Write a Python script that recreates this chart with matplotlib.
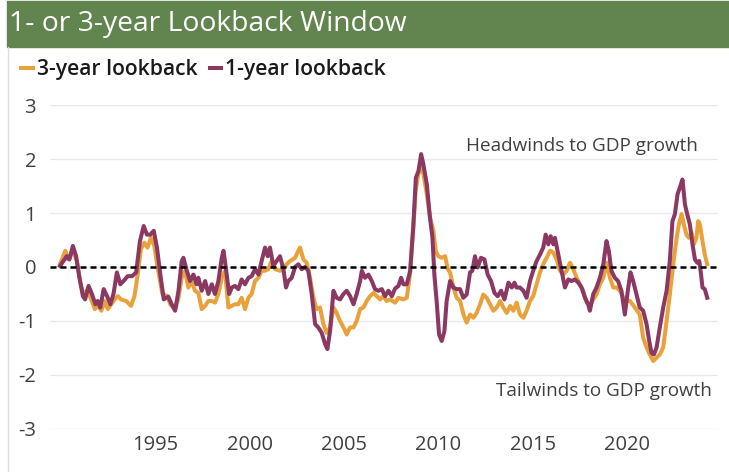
import matplotlib.pyplot as plt
from matplotlib.patches import Rectangle
from matplotlib.lines import Line2D

plt.rcParams['font.family'] = ['Open Sans', 'DejaVu Sans']

# 3-year lookback (orange), decimal years and values
three_year_dates = [
    1989.97, 1990.25, 1990.42, 1990.65, 1990.86, 1991.03, 1991.2, 1991.38, 1991.55, 1991.81,
    1991.98, 1992.16, 1992.33, 1992.5, 1992.68, 1992.86, 1993.03, 1993.2, 1993.47, 1993.73,
    1993.91, 1994.08, 1994.25, 1994.43, 1994.6, 1994.78, 1994.96, 1995.13, 1995.39, 1995.66,
    1995.8, 1996.06, 1996.24, 1996.41, 1996.59, 1996.76, 1996.94, 1997.11, 1997.29, 1997.47,
    1997.65, 1997.82, 1998.0, 1998.17, 1998.35, 1998.53, 1998.7, 1998.88, 1999.06, 1999.23,
    1999.41, 1999.58, 1999.76, 1999.94, 2000.11, 2000.29, 2000.47, 2000.64, 2000.82, 2000.99,
    2001.17, 2001.35, 2001.61, 2001.79, 2001.96, 2002.14, 2002.41, 2002.58, 2002.67, 2002.85,
    2003.02, 2003.2, 2003.38, 2003.55, 2003.73, 2003.91, 2004.08, 2004.26, 2004.44, 2004.61,
    2004.79, 2004.97, 2005.14, 2005.32, 2005.5, 2005.67, 2005.85, 2006.03, 2006.2, 2006.38,
    2006.56, 2006.73, 2006.91, 2007.08, 2007.26, 2007.44, 2007.7, 2007.88, 2008.14, 2008.32,
    2008.49, 2008.67, 2008.79, 2008.93, 2009.08, 2009.2, 2009.38, 2009.55, 2009.73, 2009.85,
    2009.99, 2010.17, 2010.35, 2010.49, 2010.61, 2010.79, 2010.96, 2011.14, 2011.32, 2011.49,
    2011.67, 2011.85, 2012.02, 2012.2, 2012.37, 2012.55, 2012.73, 2012.9, 2013.08, 2013.26,
    2013.43, 2013.61, 2013.79, 2013.96, 2014.13, 2014.31, 2014.49, 2014.66, 2014.84, 2015.01,
    2015.19, 2015.37, 2015.54, 2015.72, 2015.9, 2016.07, 2016.25, 2016.43, 2016.6, 2016.78,
    2016.96, 2017.13, 2017.31, 2017.48, 2017.66, 2017.84, 2018.01, 2018.19, 2018.37, 2018.54,
    2018.72, 2018.9, 2019.07, 2019.25, 2019.42, 2019.6, 2019.78, 2020.04, 2020.13, 2020.39,
    2020.65, 2020.83, 2021.01, 2021.18, 2021.36, 2021.54, 2021.71, 2021.89, 2022.07, 2022.24,
    2022.42, 2022.6, 2022.72, 2022.86, 2022.98, 2023.12, 2023.25, 2023.39, 2023.51, 2023.65,
    2023.74, 2023.83, 2023.97, 2024.09, 2024.22,
]
three_year_values = [
    0.05, 0.3, 0.14, 0.3, 0.11, -0.26, -0.5, -0.44, -0.54, -0.78,
    -0.72, -0.81, -0.63, -0.78, -0.69, -0.6, -0.54, -0.6, -0.63, -0.72,
    -0.54, -0.14, 0.33, 0.45, 0.36, 0.54, 0.39, 0.0, -0.5, -0.54,
    -0.69, -0.78, -0.57, -0.2, -0.07, -0.38, -0.26, -0.44, -0.48, -0.78,
    -0.72, -0.63, -0.63, -0.66, -0.5, -0.2, -0.07, -0.75, -0.72, -0.69,
    -0.69, -0.57, -0.78, -0.57, -0.5, -0.26, -0.2, -0.07, -0.07, -0.04,
    0.11, -0.04, -0.07, -0.04, 0.05, 0.11, 0.17, 0.3, 0.36, 0.14,
    0.08, -0.2, -0.57, -0.78, -0.75, -1.06, -1.22, -1.12, -0.75, -0.85,
    -1.0, -1.12, -1.25, -1.12, -1.12, -1.0, -0.78, -0.75, -0.63, -0.54,
    -0.48, -0.54, -0.6, -0.54, -0.63, -0.6, -0.66, -0.57, -0.6, -0.57,
    -0.14, 0.73, 1.41, 1.72, 1.85, 1.72, 1.35, 0.91, 0.67, 0.3,
    0.2, 0.17, 0.2, -0.04, -0.1, -0.38, -0.57, -0.63, -0.88, -1.03,
    -0.88, -0.94, -0.85, -0.69, -0.51, -0.57, -0.69, -0.81, -0.75, -0.63,
    -0.75, -0.85, -0.72, -0.81, -0.66, -0.88, -0.94, -0.81, -0.63, -0.54,
    -0.32, -0.1, 0.05, 0.17, 0.3, 0.27, 0.14, -0.07, -0.14, -0.07,
    0.08, -0.04, -0.2, -0.32, -0.44, -0.66, -0.72, -0.6, -0.5, -0.32,
    -0.2, 0.08, -0.2, -0.38, -0.38, -0.44, -0.57, -0.63, -0.63, -0.75,
    -0.88, -1.31, -1.49, -1.62, -1.74, -1.68, -1.62, -1.49, -1.0, -0.51,
    0.05, 0.54, 0.79, 0.98, 0.79, 0.6, 0.54, 0.64, 0.42, 0.54,
    0.85, 0.79, 0.48, 0.23, 0.05,
]

# 1-year lookback (purple)
one_year_dates = [
    1989.97, 1990.15, 1990.33, 1990.47, 1990.65, 1990.82, 1991.0, 1991.18, 1991.3, 1991.48,
    1991.66, 1991.84, 1991.96, 1992.1, 1992.28, 1992.46, 1992.63, 1992.8, 1992.98, 1993.16,
    1993.33, 1993.55, 1993.78, 1994.0, 1994.2, 1994.4, 1994.57, 1994.75, 1994.93, 1995.1,
    1995.28, 1995.46, 1995.7, 1995.88, 1996.06, 1996.24, 1996.41, 1996.5, 1996.68, 1996.85,
    1997.03, 1997.2, 1997.29, 1997.47, 1997.65, 1997.82, 1998.0, 1998.17, 1998.35, 1998.53,
    1998.62, 1998.74, 1998.92, 1999.06, 1999.23, 1999.41, 1999.58, 1999.76, 1999.94, 2000.11,
    2000.29, 2000.47, 2000.64, 2000.82, 2000.96, 2001.08, 2001.26, 2001.43, 2001.61, 2001.79,
    2001.93, 2002.05, 2002.23, 2002.41, 2002.58, 2002.76, 2002.94, 2003.11, 2003.29, 2003.47,
    2003.64, 2003.82, 2004.0, 2004.12, 2004.26, 2004.44, 2004.61, 2004.79, 2004.97, 2005.14,
    2005.32, 2005.5, 2005.67, 2005.85, 2005.94, 2006.11, 2006.29, 2006.47, 2006.64, 2006.82,
    2007.0, 2007.17, 2007.35, 2007.53, 2007.7, 2007.88, 2008.02, 2008.14, 2008.32, 2008.5,
    2008.67, 2008.8, 2008.94, 2009.08, 2009.2, 2009.38, 2009.55, 2009.68, 2009.78, 2009.9,
    2010.03, 2010.17, 2010.31, 2010.43, 2010.61, 2010.78, 2010.96, 2011.14, 2011.31, 2011.49,
    2011.67, 2011.79, 2011.93, 2012.07, 2012.25, 2012.43, 2012.6, 2012.78, 2012.96, 2013.13,
    2013.31, 2013.49, 2013.7, 2013.88, 2014.02, 2014.13, 2014.31, 2014.49, 2014.66, 2014.84,
    2015.01, 2015.19, 2015.37, 2015.54, 2015.67, 2015.81, 2015.93, 2016.08, 2016.16, 2016.34,
    2016.52, 2016.69, 2016.87, 2017.04, 2017.22, 2017.4, 2017.57, 2017.75, 2017.92, 2018.01,
    2018.19, 2018.36, 2018.54, 2018.72, 2018.89, 2019.01, 2019.15, 2019.33, 2019.5, 2019.68,
    2019.86, 2020.04, 2020.16, 2020.3, 2020.48, 2020.65, 2020.83, 2021.01, 2021.15, 2021.27,
    2021.4, 2021.54, 2021.71, 2021.89, 2022.07, 2022.24, 2022.38, 2022.51, 2022.65, 2022.77,
    2022.91, 2023.04, 2023.16, 2023.3, 2023.44, 2023.57, 2023.69, 2023.8, 2023.88, 2023.97,
    2024.09, 2024.22,
]
one_year_values = [
    0.02, 0.11, 0.2, 0.14, 0.39, 0.2, -0.2, -0.54, -0.6, -0.35,
    -0.5, -0.69, -0.63, -0.75, -0.41, -0.54, -0.69, -0.5, -0.1, -0.32,
    -0.26, -0.17, -0.17, -0.1, 0.48, 0.76, 0.6, 0.6, 0.67, 0.36,
    -0.14, -0.6, -0.55, -0.69, -0.81, -0.44, 0.11, 0.17, -0.07, -0.26,
    -0.14, -0.32, -0.2, -0.44, -0.26, -0.5, -0.32, -0.5, -0.26, 0.17,
    0.3, 0.0, -0.5, -0.38, -0.35, -0.41, -0.23, -0.32, -0.2, -0.17,
    -0.04, -0.14, 0.11, 0.36, 0.2, 0.36, 0.02, 0.11, 0.2, -0.04,
    -0.38, -0.26, -0.2, 0.0, 0.05, -0.04, 0.0, -0.07, -0.5, -1.06,
    -1.12, -1.22, -1.43, -1.52, -1.19, -0.44, -0.57, -0.6, -0.5, -0.44,
    -0.54, -0.69, -0.5, -0.26, -0.07, -0.2, -0.14, -0.26, -0.41, -0.44,
    -0.41, -0.54, -0.44, -0.54, -0.4, -0.35, -0.2, -0.32, -0.32, -0.07,
    0.79, 1.65, 1.78, 2.09, 1.9, 1.53, 0.91, 0.54, -0.14, -0.63,
    -1.25, -1.37, -1.19, -0.63, -0.26, -0.38, -0.41, -0.41, -0.57, -0.51,
    -0.1, -0.07, 0.2, -0.01, 0.17, 0.14, -0.14, -0.26, -0.48, -0.54,
    -0.44, -0.6, -0.29, -0.38, -0.29, -0.38, -0.38, -0.44, -0.57, -0.26,
    -0.07, 0.11, 0.23, 0.36, 0.6, 0.42, 0.57, 0.42, 0.54, 0.23,
    -0.07, -0.38, -0.23, -0.26, -0.23, -0.29, -0.38, -0.57, -0.69, -0.81,
    -0.5, -0.38, -0.2, 0.05, 0.48, 0.3, -0.07, -0.2, -0.26, -0.44,
    -0.88, -0.38, -0.1, -0.26, -0.51, -0.75, -0.81, -1.06, -1.37, -1.59,
    -1.62, -1.49, -1.12, -0.75, -0.44, 0.11, 0.85, 0.98, 1.35, 1.47,
    1.62, 1.16, 0.98, 0.79, 0.42, 0.14, 0.08, 0.11, -0.1, -0.38,
    -0.41, -0.57,
]

y_ticks = [-3, -2, -1, 0, 1, 2, 3]
x_ticks = [1995, 2000, 2005, 2010, 2015, 2020]

orange = '#E9A23B'
purple = '#8B3862'
text_grey = '#404040'

fig = plt.figure(figsize=(7.29, 4.72), dpi=100)
W, H = 729.0, 472.0

# green title banner and left frame edge
fig.patches.append(Rectangle((7 / W, 1 - 47 / H), 722 / W, 46 / H,
                             transform=fig.transFigure, color='#62854F', zorder=0))
fig.lines.append(Line2D([8 / W, 8 / W], [0, 1 - 47 / H], transform=fig.transFigure,
                        color='#D9DCE0', lw=1))
fig.text(9 / W, 1 - 24 / H, '1- or 3-year Lookback Window', color='white',
         fontsize=20.3, va='center', ha='left')

ax = fig.add_axes([50 / W, 1 - 429 / H, 668 / W, 324 / H])
ax.plot(three_year_dates, three_year_values, color=orange, lw=2.9, label='3-year lookback',
        solid_joinstyle='round', zorder=3)
ax.plot(one_year_dates, one_year_values, color=purple, lw=2.9, label='1-year lookback',
        solid_joinstyle='round', zorder=4)
ax.axhline(0, color='black', lw=1.8, ls=(0, (2.4, 1.6)), zorder=5)

ax.set_xlim(1989.44, 2024.79)
ax.set_ylim(-3, 3)
ax.set_yticks(y_ticks)
ax.set_yticklabels([str(t) for t in y_ticks])
ax.set_xticks(x_ticks)
ax.grid(axis='y', color='#E6E9ED', lw=1, zorder=0)
ax.grid(axis='x', visible=False)
for s in ax.spines.values():
    s.set_visible(False)
ax.tick_params(length=0, labelsize=14.5, labelcolor=text_grey)
ax.tick_params(axis='y', pad=10)
ax.tick_params(axis='x', pad=4)

ax.text(2023.73, 2.24, 'Headwinds to GDP growth', ha='right', va='center',
        fontsize=13.6, color=text_grey)
ax.text(2024.47, -2.3, 'Tailwinds to GDP growth', ha='right', va='center',
        fontsize=13.6, color=text_grey)

fig.legend(loc='center left', bbox_to_anchor=(13 / W, 1 - 70 / H), ncol=2, frameon=False,
           handlelength=0.55, handletextpad=0.2, columnspacing=0.55, borderaxespad=0,
           prop={'size': 15.2, 'weight': 'semibold'}, labelcolor='#1A1A1A')

fig.savefig('out.png', dpi=100)
